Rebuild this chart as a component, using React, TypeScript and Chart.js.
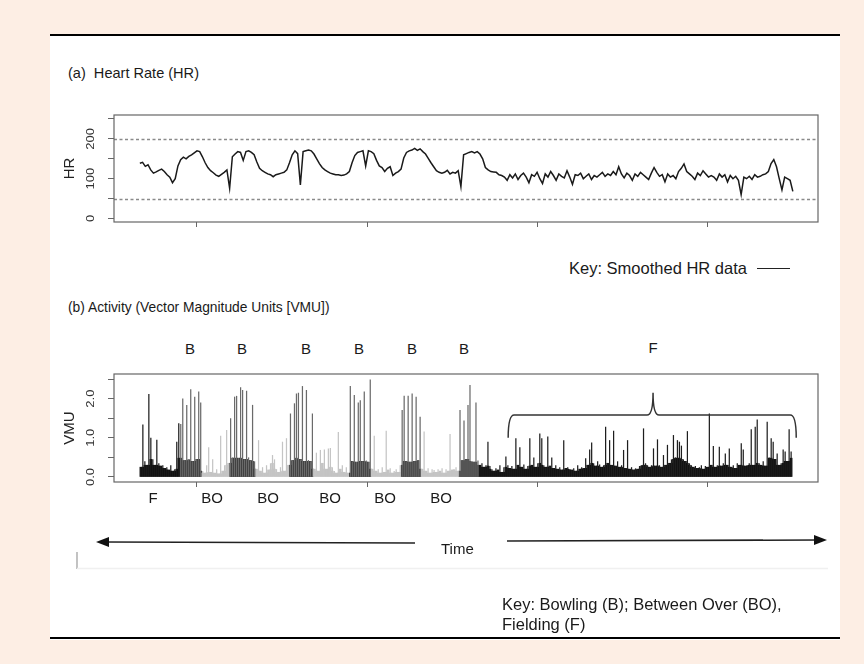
import React, { useEffect, useRef } from 'react';
import { Chart, registerables } from 'chart.js';
Chart.register(...registerables);

// ---------- Heart rate (a) ----------
const HR_VALUES = [
  139, 141, 131, 135, 122, 114, 117, 121, 124, 118,
  110, 104, 90, 100, 132, 148, 154, 150, 156, 160,
  165, 170, 168, 155, 140, 128, 120, 115, 109, 106,
  111, 116, 122, 76, 155, 162, 168, 166, 146, 168,
  170, 166, 160, 142, 126, 120, 116, 112, 110, 105,
  110, 112, 114, 116, 122, 140, 160, 170, 163, 84,
  168, 170, 172, 170, 162, 150, 138, 128, 122, 118,
  114, 112, 110, 110, 108, 109, 112, 118, 140, 158,
  166, 168, 170, 132, 170, 168, 163, 146, 132, 128,
  118, 126, 130, 108, 114, 118, 124, 152, 166, 170,
  172, 176, 171, 175, 168, 162, 151, 140, 130, 120,
  116, 114, 116, 121, 112, 116, 114, 120, 80, 160,
  163, 166, 168, 165, 168, 162, 150, 128, 122, 118,
  117, 116, 110, 108, 104, 96, 110, 102, 112, 98,
  108, 114, 104, 90, 110, 106, 116, 100, 88, 112,
  104, 118, 108, 96, 112, 106, 102, 120, 104, 86,
  110, 108, 114, 100, 106, 112, 98, 108, 104, 110,
  116, 106, 112, 108, 118, 110, 130, 112, 102, 114,
  108, 96, 112, 106, 116, 110, 104, 98, 114, 128,
  116, 106, 110, 92, 112, 104, 108, 100, 118, 126,
  137, 118, 112, 106, 98, 114, 108, 120, 112, 104,
  108, 104, 96, 112, 104, 110, 92, 108, 100, 106,
  96, 60, 104, 100, 106, 98, 110, 104, 106, 110,
  112, 118, 138, 148, 130, 100, 72, 104, 100, 96,
  68,
];
const HR_T0 = 33.2;
const HR_DT = 0.8;
const HR_Y_TICKS = [0, 50, 100, 150, 200, 250];
const HR_Y_LABELS = [0, 100, 200];
const HR_REF_LINES = [50, 200];
const TIME_TICKS = [50, 100, 150, 200];

// ---------- Activity (b), VMU per phase ----------
const VMU_F1 = [0.25, 1.34, 0.4, 0.3, 2.12, 1.0, 0.45, 0.3, 0.95, 0.35, 0.28, 0.3, 0.22, 0.25, 0.18, 0.3, 0.15, 0.2, 0.9, 1.37];
const VMU_B1 = [1.35, 2.0, 0.42, 1.84, 0.44, 2.24, 0.4, 2.05, 0.45, 2.18, 1.9];
const VMU_BO1 = [0.15, 0.1, 0.3, 0.76, 0.12, 0.45, 0.1, 0.2, 0.08, 1.05, 0.15, 0.3, 1.2, 0.35];
const VMU_B2 = [1.5, 0.5, 2.05, 2.07, 0.48, 2.29, 2.22, 0.45, 2.2, 0.5, 0.42, 1.84, 0.4];
const VMU_BO2 = [0.2, 0.94, 0.15, 0.25, 0.1, 0.3, 0.18, 0.35, 0.56, 0.45, 0.2, 0.12, 0.25, 0.9, 0.15, 0.99, 0.3];
const VMU_B3 = [1.62, 0.42, 1.88, 2.13, 2.15, 0.45, 2.32, 0.4, 2.22, 0.43, 0.4, 1.62];
const VMU_BO3 = [0.2, 0.62, 0.15, 0.69, 0.35, 0.7, 0.2, 0.73, 0.74, 0.25, 0.15, 0.1, 1.15, 0.2, 0.3, 0.12, 0.25, 0.1];
const VMU_B4 = [2.32, 0.4, 2.09, 0.38, 1.9, 1.96, 0.4, 2.18, 0.42, 0.38, 2.49];
const VMU_BO4 = [0.2, 1.05, 0.15, 0.2, 0.1, 0.25, 0.12, 1.18, 0.18, 0.22, 0.1, 0.15, 0.2, 0.12, 0.3];
const VMU_B5 = [1.71, 2.07, 0.4, 2.07, 0.38, 2.13, 0.4, 2.05, 0.42, 1.54];
const VMU_BO5 = [0.2, 1.16, 0.15, 0.22, 0.1, 0.2, 0.18, 0.12, 0.2, 0.15, 0.22, 0.1, 0.2, 0.15, 1.1, 0.18, 0.2, 0.25, 0.15];
const VMU_B6 = [1.71, 0.42, 1.44, 0.45, 1.84, 2.35, 0.4, 0.38, 1.9, 0.42];
const VMU_F2 = [
  0.3, 0.35, 0.25, 0.3, 0.9, 0.28, 0.2, 0.15, 0.22, 0.18,
  0.3, 0.12, 0.25, 0.52, 0.3, 0.22, 0.28, 0.2, 0.99, 0.3,
  0.76, 0.25, 0.32, 0.2, 0.28, 0.99, 0.3, 0.5, 0.25, 0.35,
  1.11, 0.99, 0.3, 0.25, 1.03, 0.28, 0.5, 0.22, 0.3, 0.2,
  0.25, 0.18, 0.94, 0.22, 0.25, 0.2, 0.18, 0.22, 0.15, 0.3,
  0.2, 0.25, 0.22, 0.48, 0.3, 0.7, 0.88, 0.35, 0.28, 0.4,
  0.32, 0.25, 0.3, 1.28, 0.35, 0.94, 0.3, 1.18, 0.28, 0.4,
  0.25, 0.3, 0.69, 0.22, 0.94, 0.2, 0.25, 0.18, 0.22, 0.2,
  0.28, 0.3, 1.24, 0.35, 0.3, 0.25, 0.3, 0.73, 0.28, 0.96,
  0.3, 0.25, 0.56, 0.3, 0.82, 0.35, 0.45, 1.07, 0.5, 0.94,
  0.9, 0.8, 0.45, 0.4, 1.17, 0.35, 0.3, 0.25, 0.28, 0.22,
  0.25, 0.3, 0.2, 0.28, 0.25, 1.62, 0.3, 0.79, 0.25, 0.3,
  0.77, 0.28, 0.35, 0.6, 0.3, 0.73, 0.25, 0.3, 0.22, 0.35,
  0.3, 0.86, 0.7, 0.28, 0.3, 0.35, 1.22, 0.3, 1.28, 1.47,
  0.35, 0.3, 0.4, 0.28, 1.41, 0.5, 0.99, 0.9, 0.45, 0.6,
  0.3, 0.35, 0.7, 0.65, 0.4, 1.22, 0.65,
];
const VMU_PHASES: [string, number[]][] = [
  ['F', VMU_F1], ['B', VMU_B1], ['BO', VMU_BO1], ['B', VMU_B2], ['BO', VMU_BO2],
  ['B', VMU_B3], ['BO', VMU_BO3], ['B', VMU_B4], ['BO', VMU_BO4], ['B', VMU_B5],
  ['BO', VMU_BO5], ['B', VMU_B6], ['F', VMU_F2],
];
const VMU_T0 = 33.5;
const VMU_DT = 0.5865;
const VMU_FLOOR_CAP = 0.48;
const VMU_Y_TICKS = [0, 0.5, 1, 1.5, 2, 2.5];
const VMU_Y_LABELS = [0, 1, 2];
const FIELD_BRACE = { from: 141.5, to: 226.2, mid: 184.1, bar: 1.58, end: 1.0, peak: 2.15 };

const X_MIN = 25.6;
const X_MAX = 232.6;

const PEACH = '#fdeee4';
const SANS = '"Liberation Sans", Arial, Helvetica, sans-serif';
const AXIS = '#666666';
const BASE_COLORS: Record<string, string> = { F: '#0d0d0d', B: '#333333', BO: '#c4c4c4' };
const SPIKE_COLORS: Record<string, string> = { F: '#1e1e1e', B: '#6a6a6a', BO: '#c4c4c4' };

const rPlugin = {
  id: 'rStyle',
  beforeDatasetsDraw(chart: any, _a: any, opts: any) {
    const { ctx, chartArea: ca, scales } = chart;
    if (opts.refLines) {
      ctx.save();
      ctx.strokeStyle = '#8a8a8a';
      ctx.lineWidth = 1.5;
      ctx.setLineDash([3, 2.5]);
      for (const v of opts.refLines) {
        const y = Math.round(scales.y.getPixelForValue(v)) + 0.5;
        ctx.beginPath();
        ctx.moveTo(ca.left, y);
        ctx.lineTo(ca.right, y);
        ctx.stroke();
      }
      ctx.restore();
    }
  },
  afterDraw(chart: any, _a: any, opts: any) {
    const { ctx, chartArea: ca, scales } = chart;
    ctx.save();
    ctx.strokeStyle = AXIS;
    ctx.lineWidth = 1.2;
    ctx.strokeRect(ca.left, ca.top, ca.right - ca.left, ca.bottom - ca.top);
    ctx.fillStyle = '#333';
    ctx.font = `13px ${SANS}`;
    ctx.textAlign = 'center';
    ctx.textBaseline = 'middle';
    for (const v of opts.labels || []) {
      const y = scales.y.getPixelForValue(v);
      ctx.save();
      ctx.translate(ca.left - 23, y);
      ctx.rotate(-Math.PI / 2);
      ctx.scale(1, 0.8);
      ctx.fillText(v.toFixed(opts.decimals || 0), 0, 0);
      ctx.restore();
    }
    const b = opts.brace;
    if (b) {
      const xs = scales.x, ys = scales.y;
      const x0 = xs.getPixelForValue(b.from), x1 = xs.getPixelForValue(b.to), xm = xs.getPixelForValue(b.mid);
      const yb = ys.getPixelForValue(b.bar), ye = ys.getPixelForValue(b.end), yp = ys.getPixelForValue(b.peak);
      const r = 6;
      ctx.strokeStyle = '#333';
      ctx.lineWidth = 1.5;
      ctx.beginPath();
      ctx.moveTo(x0, ye);
      ctx.quadraticCurveTo(x0, yb, x0 + r, yb);
      ctx.lineTo(xm - r, yb);
      ctx.quadraticCurveTo(xm, yb, xm, yp);
      ctx.quadraticCurveTo(xm, yb, xm + r, yb);
      ctx.lineTo(x1 - r, yb);
      ctx.quadraticCurveTo(x1, yb, x1, ye);
      ctx.stroke();
    }
    ctx.restore();
  },
};

function xScale() {
  return {
    type: 'linear',
    min: X_MIN,
    max: X_MAX,
    offset: false,
    afterBuildTicks: (s: any) => { s.ticks = TIME_TICKS.map((v) => ({ value: v })); },
    afterFit: (s: any) => { s.height = 18; },
    ticks: { display: false },
    grid: { display: true, offset: false, drawOnChartArea: false, drawTicks: true, tickLength: 5, color: AXIS, lineWidth: 1 },
    border: { display: false },
  };
}

function yScale(min: number, max: number, ticks: number[], title: string) {
  return {
    type: 'linear',
    min,
    max,
    afterBuildTicks: (s: any) => { s.ticks = ticks.map((v) => ({ value: v })); },
    afterFit: (s: any) => { s.width = 64; },
    ticks: { display: false },
    grid: { display: true, drawOnChartArea: false, drawTicks: true, tickLength: 6, color: AXIS, lineWidth: 1 },
    border: { display: false },
    title: { display: true, text: title, color: '#222', font: { family: SANS, size: 15 }, padding: { top: 11, bottom: 0 } },
  };
}

function hrConfig(): any {
  return {
    type: 'line',
    data: {
      datasets: [{
        data: HR_VALUES.map((v, i) => ({ x: HR_T0 + i * HR_DT, y: v })),
        borderColor: '#1a1a1a',
        borderWidth: 1.5,
        pointRadius: 0,
        tension: 0,
        fill: false,
      }],
    },
    options: {
      animation: false,
      responsive: false,
      maintainAspectRatio: false,
      events: [],
      layout: { padding: { left: 0, right: 22, top: 15, bottom: 0 } },
      plugins: {
        legend: { display: false },
        tooltip: { enabled: false },
        rStyle: { labels: HR_Y_LABELS, decimals: 0, refLines: HR_REF_LINES },
      },
      scales: { x: xScale(), y: yScale(-8.8, 260, HR_Y_TICKS, 'HR') },
    },
    plugins: [rPlugin],
  };
}

function vmuConfig(): any {
  const all: number[] = [];
  const kinds: string[] = [];
  for (const [kind, vals] of VMU_PHASES) {
    for (const v of vals) { all.push(v); kinds.push(kind); }
  }
  const x = (i: number) => VMU_T0 + i * VMU_DT;
  // dense floor: each bar filled up to the lowest of itself and its neighbours (capped)
  const floor = all.map((v, i) => ({
    x: x(i),
    y: Math.min(VMU_FLOOR_CAP, v, all[i - 1] ?? v, all[i + 1] ?? v),
  }));
  const full = all.map((v, i) => ({ x: x(i), y: v }));
  return {
    type: 'bar',
    data: {
      datasets: [
        {
          data: full,
          backgroundColor: kinds.map((k) => SPIKE_COLORS[k]),
          borderWidth: 0,
          barPercentage: 0.62,
          categoryPercentage: 1,
          grouped: false,
          order: 1,
        },
        {
          data: floor,
          backgroundColor: kinds.map((k) => BASE_COLORS[k]),
          borderWidth: 0,
          barPercentage: 1,
          categoryPercentage: 1,
          grouped: false,
          order: 2,
        },
      ],
    },
    options: {
      animation: false,
      responsive: false,
      maintainAspectRatio: false,
      events: [],
      layout: { padding: { left: 0, right: 22, top: 14, bottom: 0 } },
      plugins: {
        legend: { display: false },
        tooltip: { enabled: false },
        rStyle: { labels: VMU_Y_LABELS, decimals: 1, brace: FIELD_BRACE },
      },
      scales: { x: xScale(), y: yScale(-0.128, 2.628, VMU_Y_TICKS, 'VMU') },
    },
    plugins: [rPlugin],
  };
}

function Txt(props: { x: number; y: number; size: number; center?: boolean; sx?: number; children: React.ReactNode }) {
  const { x, y, size, center, sx, children } = props;
  return (
    <div
      style={{
        position: 'absolute',
        left: x,
        top: y,
        fontSize: size,
        lineHeight: 1,
        whiteSpace: 'nowrap',
        color: '#1a1a1a',
        transformOrigin: '0 50%',
        transform: (center ? 'translate(-50%, -50%)' : 'translate(0, -50%)') + (sx ? ` scaleX(${sx})` : ''),
      }}
    >
      {children}
    </div>
  );
}

const B_X = [190, 242, 306, 359, 412, 464];
const BO_X = [212, 268, 330, 385, 441];

export default function App() {
  const hrRef = useRef<HTMLCanvasElement>(null);
  const vmuRef = useRef<HTMLCanvasElement>(null);
  useEffect(() => {
    document.body.style.margin = '0';
    const c1 = new Chart(hrRef.current as HTMLCanvasElement, hrConfig());
    const c2 = new Chart(vmuRef.current as HTMLCanvasElement, vmuConfig());
    return () => { c1.destroy(); c2.destroy(); };
  }, []);

  return (
    <div style={{ position: 'absolute', left: 0, top: 0, width: 864, height: 664, background: PEACH, overflow: 'hidden', fontFamily: SANS }}>
      <div style={{ position: 'absolute', left: 50, top: 35, width: 790, height: 605, background: '#ffffff' }} />
      <div style={{ position: 'absolute', left: 50, top: 34, width: 790, height: 2, background: '#000' }} />
      <div style={{ position: 'absolute', left: 50, top: 637, width: 790, height: 1.5, background: '#000' }} />

      <Txt x={68} y={72} size={15} sx={0.97}>(a)&nbsp; Heart Rate (HR)</Txt>
      <canvas ref={hrRef} width={790} height={140} style={{ position: 'absolute', left: 50, top: 100 }} />
      <Txt x={569} y={268} size={16.5}>Key: Smoothed HR data</Txt>
      <div style={{ position: 'absolute', left: 757, top: 268, width: 33, height: 1.3, background: '#222' }} />

      <Txt x={68} y={306} size={15} sx={0.92}>(b) Activity (Vector Magnitude Units [VMU])</Txt>
      {B_X.map((x, k) => <Txt key={'b' + k} x={x} y={348} size={15} center>B</Txt>)}
      <Txt x={653} y={347} size={15} center>F</Txt>
      <canvas ref={vmuRef} width={790} height={140} style={{ position: 'absolute', left: 50, top: 360 }} />
      <Txt x={153} y={497} size={15} center>F</Txt>
      {BO_X.map((x, k) => <Txt key={'bo' + k} x={x} y={497} size={15} center>BO</Txt>)}

      <svg width={864} height={664} style={{ position: 'absolute', left: 0, top: 0 }}>
        <line x1={415} y1={543} x2={105} y2={542} stroke="#222" strokeWidth={1.6} />
        <polygon points="96,542 109,537 109,547" fill="#111" />
        <line x1={507} y1={541} x2={818} y2={540} stroke="#222" strokeWidth={1.6} />
        <polygon points="827,540 814,535 814,545" fill="#111" />
        <line x1={77} y1={552} x2={77} y2={569} stroke="#9a9a9a" strokeWidth={1.2} />
        <line x1={77} y1={568.5} x2={828} y2={568.5} stroke="#f0f0f0" strokeWidth={1.5} />
      </svg>
      <Txt x={441} y={548} size={15}>Time</Txt>

      <Txt x={502} y={604} size={16.5}>Key: Bowling (B); Between Over (BO),</Txt>
      <Txt x={502} y={624} size={16.5}>Fielding (F)</Txt>
    </div>
  );
}
